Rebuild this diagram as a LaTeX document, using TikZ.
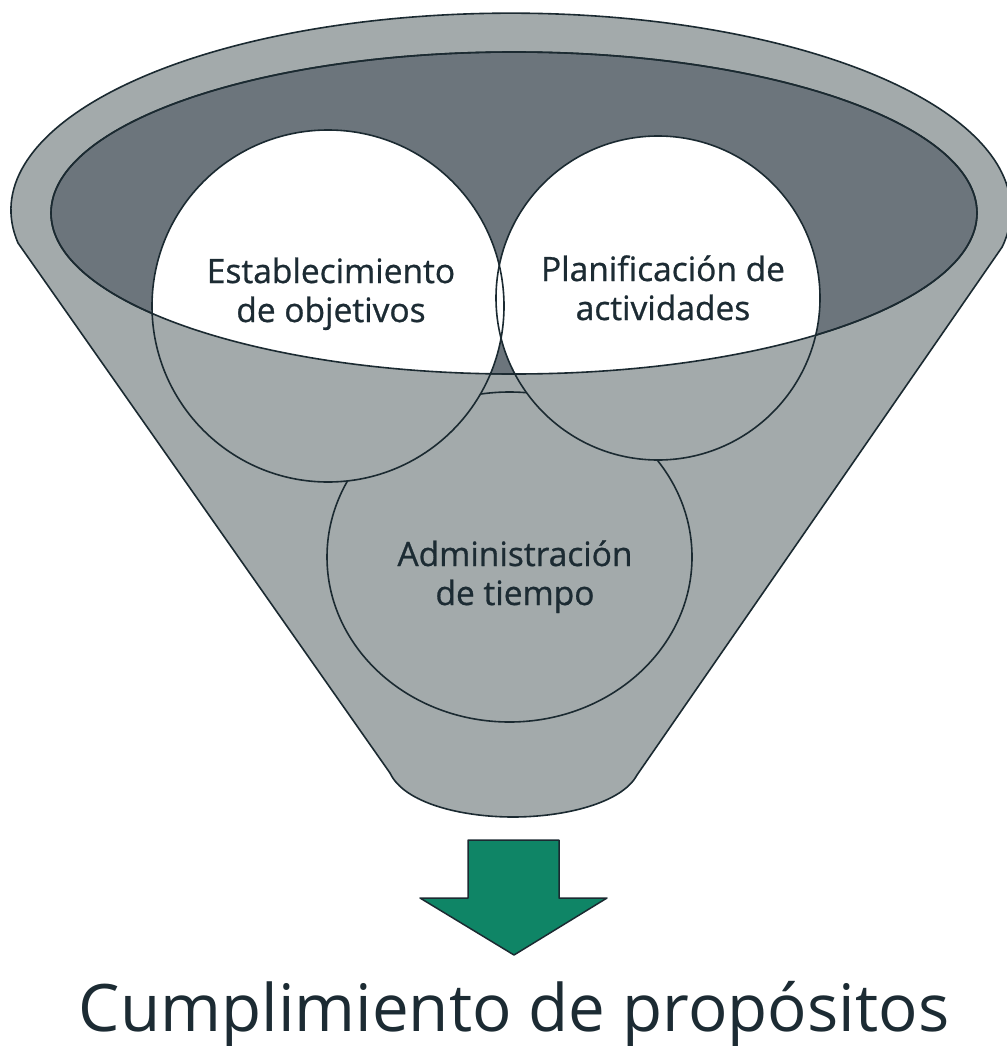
\documentclass[tikz,border=0pt]{standalone}
\usepackage{fontspec}
\setmainfont{Open Sans}
\newfontfamily\circfont{Open Sans}[FakeBold=0.8]
\definecolor{funnelgray}{HTML}{A3AAAB}
\definecolor{innerdark}{HTML}{6C757C}
\definecolor{edgecol}{HTML}{1B2A31}
\definecolor{arrowgreen}{HTML}{0F8566}
\definecolor{txtcol}{HTML}{1C2B33}
\begin{document}
\begin{tikzpicture}[x=1pt,y=-1pt,line join=round,
  outline/.style={draw=edgecol,line width=1.6pt},
  circtext/.style={text=txtcol,font=\circfont\fontsize{33.5}{39}\selectfont,align=center,anchor=base,inner sep=0pt},
  bigtext/.style={text=txtcol,font=\fontsize{65.5}{70}\selectfont,anchor=base,inner sep=0pt}]
\useasboundingbox (0,0) rectangle (1006,1046);
% funnel body
\path[outline,fill=funnelgray] (18,243) arc[start angle=170.4,end angle=370.8,x radius=500,y radius=197]
  -- (637,775) .. controls (622,803) and (565,817) .. (513,817)
  .. controls (461,817) and (404,803) .. (390,773) -- cycle;
% inner mouth
\path[outline,fill=innerdark] (514,213) ellipse[x radius=463,y radius=161];
% bottom circle
\path[outline,fill=funnelgray] (509.5,557) ellipse[x radius=182.5,y radius=165];
% upper circles
\fill[funnelgray] (328,306) circle[radius=176];
\fill[funnelgray] (658,298) circle[radius=162];
\begin{scope}
  \clip (514,213) ellipse[x radius=463,y radius=161];
  \fill[white] (328,306) circle[radius=176];
  \fill[white] (658,298) circle[radius=162];
\end{scope}
\draw[outline] (328,306) circle[radius=176];
\draw[outline] (658,298) circle[radius=162];
\draw[outline] (514,213) ellipse[x radius=463,y radius=161];
% arrow
\draw[draw=edgecol,line width=1.5pt,fill=arrowgreen] (468,840) -- (559,840) -- (559,898) -- (607,898) -- (514,955) -- (420,898) -- (468,898) -- cycle;
% texts
\node[circtext] (t1) at (331,322) {Establecimiento\\de objetivos};
\node[circtext] (t2) at (663,320) {Planificación de\\actividades};
\node[circtext] (t3) at (515,605) {Administración\\de tiempo};
\node[bigtext] (res) at (514,1031) {Cumplimiento de propósitos};
\end{tikzpicture}
\end{document}
